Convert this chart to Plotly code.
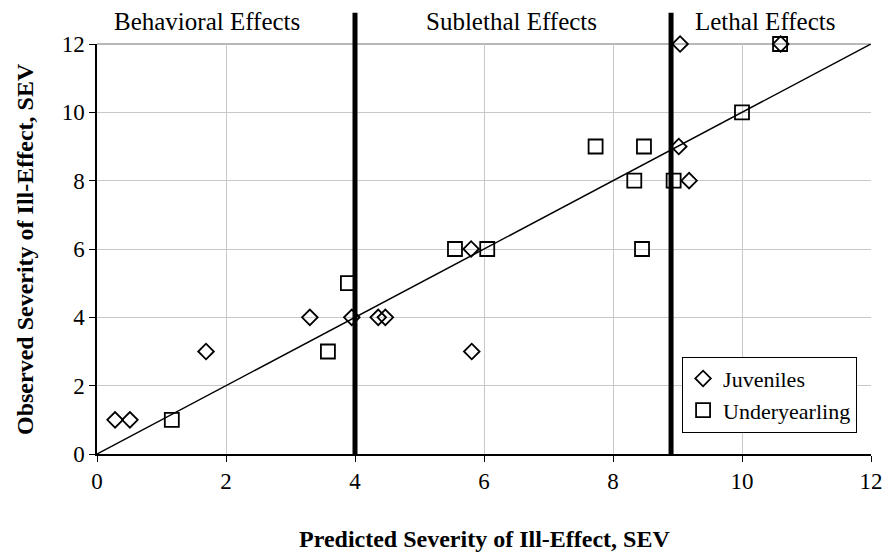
import plotly.graph_objects as go

juv_x = [0.28, 0.51, 1.69, 3.30, 3.95, 4.36, 4.47, 5.81, 5.80, 9.04, 9.02, 9.18, 10.60]
juv_y = [1, 1, 3, 4, 4, 4, 4, 3, 6, 12, 9, 8, 12]
und_x = [1.16, 3.58, 3.89, 5.55, 6.05, 7.73, 8.48, 8.33, 8.94, 8.45, 10.0, 10.59]
und_y = [1, 3, 5, 6, 6, 9, 9, 8, 8, 6, 10, 12]
line_x = [0, 12]
line_y = [0, 12]
zone_bounds = [4, 8.9]
zone_labels = ["Behavioral Effects", "Sublethal Effects", "Lethal Effects"]
zone_label_x = [1.71, 6.42, 10.36]
ticks = [0, 2, 4, 6, 8, 10, 12]

FONT = "Liberation Serif"

fig = go.Figure()
fig.add_trace(go.Scatter(x=line_x, y=line_y, mode="lines",
                         line=dict(color="black", width=1.5), showlegend=False, hoverinfo="skip"))
fig.add_trace(go.Scatter(x=juv_x, y=juv_y, mode="markers", name="Juveniles", cliponaxis=False,
                         marker=dict(symbol="diamond-open", size=12, color="black",
                                     line=dict(width=1.8, color="black"))))
fig.add_trace(go.Scatter(x=und_x, y=und_y, mode="markers", name="Underyearling", cliponaxis=False,
                         marker=dict(symbol="square-open", size=14, color="black",
                                     line=dict(width=1.8, color="black"))))

fig.add_shape(type="line", xref="paper", yref="paper", x0=0, x1=1, y0=1, y1=1,
              line=dict(color="#a0a0a0", width=1.5), layer="below")

for b in zone_bounds:
    fig.add_shape(type="line", xref="x", yref="paper", x0=b, x1=b, y0=0, y1=1.076,
                  line=dict(color="black", width=5), layer="above")

for t, xx in zip(zone_labels, zone_label_x):
    fig.add_annotation(x=xx, xref="x", y=1.054, yref="paper", text=t, showarrow=False,
                       yanchor="middle", font=dict(family=FONT, size=25, color="black"))

fig.add_annotation(x=0.5, xref="paper", y=-0.207, yref="paper", yanchor="middle",
                   text="<b>Predicted Severity of Ill-Effect, SEV</b>", showarrow=False,
                   font=dict(family=FONT, size=24, color="black"))
fig.add_annotation(x=-0.093, xref="paper", y=0.5, yref="paper", xanchor="center", yanchor="middle",
                   textangle=-90, text="<b>Observed Severity of Ill-Effect, SEV</b>", showarrow=False,
                   font=dict(family=FONT, size=24, color="black"))

fig.update_layout(
    width=886, height=552,
    margin=dict(l=97, r=15, t=44, b=98),
    paper_bgcolor="white", plot_bgcolor="white",
    font=dict(family=FONT, color="black"),
    legend=dict(x=0.982, y=0.052, xanchor="right", yanchor="bottom",
                bgcolor="white", bordercolor="black", borderwidth=1,
                font=dict(family=FONT, size=22, color="black"),
                tracegroupgap=0, itemwidth=30),
)
fig.update_xaxes(range=[0, 12], tickvals=ticks, automargin=False,
                 showgrid=True, gridcolor="#c8c8c8", gridwidth=1,
                 showline=True, linecolor="black", linewidth=1.5,
                 ticks="outside", ticklen=6, tickcolor="black",
                 zeroline=False,
                 tickfont=dict(family=FONT, size=23, color="black"))
fig.update_yaxes(range=[0, 12], tickvals=ticks, automargin=False,
                 showgrid=True, gridcolor="#c8c8c8", gridwidth=1,
                 showline=True, linecolor="black", linewidth=1.5,
                 ticks="outside", ticklen=6, tickcolor="black",
                 zeroline=False,
                 tickfont=dict(family=FONT, size=23, color="black"))

fig.write_html("out.html")
